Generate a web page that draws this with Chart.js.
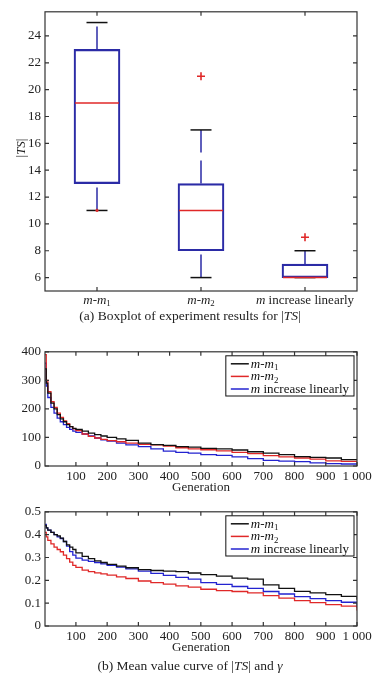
<!DOCTYPE html>
<html><head><meta charset="utf-8">
<script src="https://cdn.jsdelivr.net/npm/chart.js@4"></script>
<style>
html,body{margin:0;padding:0;background:#fff;}
#wrap{position:relative;width:380px;height:679px;overflow:hidden;font-family:'Liberation Serif',serif;color:#222;background:#fff;}
.cv{position:absolute;left:0;width:380px;}
.cap{position:absolute;left:0;width:380px;text-align:center;font-size:13.5px;line-height:16px;white-space:nowrap;}
</style></head><body>
<div id="wrap">
<div class="cv" style="top:0;height:312px"><canvas id="c1"></canvas></div>
<div class="cap" style="top:308px">(a) Boxplot of experiment results for |<i>TS</i>|</div>
<div class="cv" style="top:340px;height:155px"><canvas id="c2"></canvas></div>
<div class="cv" style="top:500px;height:155px"><canvas id="c3"></canvas></div>
<div class="cap" style="top:658px">(b) Mean value curve of |<i>TS</i>| and <i>γ</i></div>
</div>
<script>
// ---------- data ----------
const categories = ['m-m₁', 'm-m₂', 'm increase linearly'];
const boxQ1 = [13, 8, 6];
const boxQ3 = [23, 13, 7];
const boxMedian = [19, 11, 6];
const whiskerMin = [11, 6, 6];
const whiskerMax = [25, 17, 8];
const outlierCat = [0, 1, 2];
const outlierVal = [11, 21, 9];
const yTicks1 = [6, 8, 10, 12, 14, 16, 18, 20, 22, 24];

const seriesLabels = ['m-m₁', 'm-m₂', 'm increase linearly'];
const generations = [1,5,10,20,30,40,50,60,70,80,90,100,120,140,160,180,200,230,260,300,340,380,420,460,500,550,600,650,700,750,800,850,900,950,1000];
const tsM1 = [340,290,255,220,200,180,165,155,145,138,132,128,122,115,110,105,100,95,90,80,75,72,68,66,62,60,56,50,45,40,33,30,28,22,20];
const tsM2 = [390,300,260,225,205,185,170,158,148,138,130,124,112,104,98,93,89,85,80,76,74,70,64,60,57,53,48,43,36,32,28,24,18,16,15];
const tsLin = [360,280,240,205,185,168,155,145,135,128,122,118,112,105,98,92,87,80,74,68,60,52,48,45,40,37,32,26,20,17,15,11,8,7,6];
const gM1 = [.44,.43,.42,.41,.40,.395,.385,.37,.355,.345,.335,.32,.305,.295,.285,.278,.27,.262,.255,.247,.243,.24,.238,.232,.225,.218,.21,.205,.18,.165,.152,.145,.137,.13,.115];
const gM2 = [.41,.39,.375,.36,.345,.335,.325,.31,.295,.28,.265,.257,.245,.238,.233,.228,.223,.215,.208,.197,.19,.183,.176,.17,.161,.155,.151,.145,.133,.122,.111,.102,.094,.087,.068];
const gLin = [.445,.43,.42,.41,.40,.39,.383,.37,.35,.326,.31,.297,.288,.283,.278,.272,.266,.258,.25,.24,.23,.222,.213,.205,.19,.182,.173,.165,.151,.14,.129,.12,.111,.104,.08];
const xTicks = [100,200,300,400,500,600,700,800,900,1000];
const yTicks2 = [0,100,200,300,400];
const yTicks3 = [0,0.1,0.2,0.3,0.4,0.5];

// ---------- helpers ----------
const FONT = '"Liberation Serif", "Times New Roman", serif';
const INK = '#222';
const BLUE = '#2b2ba6', RED = '#e02828', BLACK = '#111';
const subMap = {'₁':'1','₂':'2'};
function richParts(str, italic){
  const parts=[];
  for(const ch of str){
    let c=ch, sub=false, style='normal';
    if(subMap[ch]){sub=true;c=subMap[ch];}
    else if(italic.includes(ch)) style='italic';
    const last=parts[parts.length-1];
    if(last && last.style===style && last.sub===sub) last.t+=c; else parts.push({t:c,style,sub});
  }
  return parts;
}
function fontOf(p,size){return `${p.style} ${p.sub?size*0.68:size}px ${FONT}`;}
function measureRich(ctx,str,italic,size){
  let w=0; richParts(str,italic).forEach(p=>{ctx.font=fontOf(p,size);w+=ctx.measureText(p.t).width;}); return w;
}
function drawRich(ctx,str,italic,x,y,size,align){
  const parts=richParts(str,italic);
  let w=0; parts.forEach(p=>{ctx.font=fontOf(p,size);p.w=ctx.measureText(p.t).width;w+=p.w;});
  let cx = align==='center'? x-w/2 : (align==='right'? x-w : x);
  ctx.textAlign='left'; ctx.textBaseline='alphabetic';
  parts.forEach(p=>{ctx.font=fontOf(p,size);ctx.fillText(p.t,cx,y+(p.sub?size*0.18:0));cx+=p.w;});
}

const framePlugin = {id:'frame', afterDatasetsDraw(chart){
  const {ctx, chartArea:a} = chart; const xs=chart.scales.x, ys=chart.scales.y;
  ctx.save(); ctx.strokeStyle='#333'; ctx.lineWidth=1.2;
  ctx.strokeRect(a.left,a.top,a.right-a.left,a.bottom-a.top);
  const L=4; ctx.beginPath();
  xs.ticks.forEach((t,i)=>{const px=xs.getPixelForTick(i); ctx.moveTo(px,a.bottom);ctx.lineTo(px,a.bottom-L);ctx.moveTo(px,a.top);ctx.lineTo(px,a.top+L);});
  ys.ticks.forEach((t,i)=>{const py=ys.getPixelForTick(i); ctx.moveTo(a.left,py);ctx.lineTo(a.left+L,py);ctx.moveTo(a.right,py);ctx.lineTo(a.right-L,py);});
  ctx.stroke(); ctx.restore();
}};

const boxPlugin = {id:'boxparts', beforeDatasetsDraw(chart){
  const {ctx}=chart; const xs=chart.scales.x, ys=chart.scales.y;
  ctx.save();
  categories.forEach((c,i)=>{
    const cx=xs.getPixelForValue(i);
    ctx.strokeStyle=BLUE; ctx.lineWidth=1.5; ctx.setLineDash([23,8]);
    ctx.beginPath(); ctx.moveTo(cx,ys.getPixelForValue(whiskerMin[i])); ctx.lineTo(cx,ys.getPixelForValue(boxQ1[i])); ctx.stroke();
    ctx.beginPath(); ctx.moveTo(cx,ys.getPixelForValue(boxQ3[i])); ctx.lineTo(cx,ys.getPixelForValue(whiskerMax[i])); ctx.stroke();
    ctx.setLineDash([]);
    ctx.strokeStyle=BLACK; ctx.lineWidth=1.5;
    [whiskerMin[i],whiskerMax[i]].forEach(v=>{const py=ys.getPixelForValue(v);ctx.beginPath();ctx.moveTo(cx-10.5,py);ctx.lineTo(cx+10.5,py);ctx.stroke();});
  });
  ctx.restore();
}, afterDatasetsDraw(chart){
  const {ctx}=chart; const xs=chart.scales.x, ys=chart.scales.y;
  ctx.save(); ctx.strokeStyle=RED; ctx.lineWidth=1.5;
  categories.forEach((c,i)=>{const cx=xs.getPixelForValue(i), py=ys.getPixelForValue(boxMedian[i]);
    ctx.beginPath();ctx.moveTo(cx-22,py);ctx.lineTo(cx+22,py);ctx.stroke();});
  // category labels & y title
  ctx.fillStyle=INK;
  categories.forEach((c,i)=>drawRich(ctx,c,'m',xs.getPixelForValue(i),304,13,'center'));
  ctx.translate(25,148); ctx.rotate(-Math.PI/2);
  drawRich(ctx,'|TS|','TS',0,0,13,'center');
  ctx.restore();
}};

const legendPlugin = {id:'rlegend', afterDraw(chart){
  const {ctx, chartArea:a}=chart; const ds=chart.data.datasets; const size=13;
  ctx.save();
  const maxW=Math.max(...ds.map(d=>measureRich(ctx,d.label,'m',size)));
  const lineLen=18, rowH=12.6;
  const w=6+lineLen+2+maxW+4, h=8+rowH*(ds.length-1)+7;
  const right=a.right-3, left=right-w, top=a.top+4;
  ctx.fillStyle='#fff'; ctx.fillRect(left,top,w,h);
  ctx.strokeStyle='#111'; ctx.lineWidth=1; ctx.strokeRect(left,top,w,h);
  ds.forEach((d,i)=>{const cy=top+8+i*rowH;
    ctx.strokeStyle=d.borderColor; ctx.lineWidth=1.5; ctx.beginPath(); ctx.moveTo(left+5,cy); ctx.lineTo(left+5+lineLen,cy); ctx.stroke();
    ctx.fillStyle='#111'; drawRich(ctx,d.label,'m',left+6+lineLen+1,cy+4,size,'left');});
  ctx.restore();
}};

Chart.defaults.font.family = FONT;
Chart.defaults.color = INK;
Chart.defaults.animation = false;

// ---------- chart 1: boxplot ----------
new Chart(document.getElementById('c1'), {
  type:'bar',
  data:{labels:categories, datasets:[
    {type:'bar', data:boxQ1.map((v,i)=>[v,boxQ3[i]]), backgroundColor:'rgba(0,0,0,0)', borderColor:BLUE, borderWidth:1.5, borderSkipped:false, barThickness:46, order:2},
    {type:'scatter', data:outlierCat.map((c,i)=>({x:categories[c], y:outlierVal[i]})), pointStyle:'cross', pointRadius:[1.6,4,4], borderColor:RED, backgroundColor:RED, pointBorderWidth:1.6, order:1}
  ]},
  options:{responsive:true, maintainAspectRatio:false,
    layout:{padding:{top:5,right:23,left:0,bottom:0}},
    plugins:{legend:{display:false}, tooltip:{enabled:false}},
    scales:{
      x:{type:'category', offset:true, grid:{display:false}, border:{display:false}, ticks:{display:false}, afterFit:s=>{s.height=21;}},
      y:{min:5, max:25.8, grid:{display:false, drawTicks:false}, border:{display:false},
        afterBuildTicks:s=>{s.ticks=yTicks1.map(v=>({value:v}));},
        ticks:{padding:4, font:{size:13}, color:INK}, afterFit:s=>{s.width=45;}}
    }},
  plugins:[boxPlugin, framePlugin]
});

// ---------- line charts ----------
function lineChart(id, series, yMin, yMax, yTicks, padTop){
  return new Chart(document.getElementById(id), {
    type:'line',
    data:{datasets:series.map(s=>({label:s.label, data:generations.map((g,i)=>({x:g,y:s.values[i]})), borderColor:s.color, borderWidth:1.3, pointRadius:0, stepped:true, fill:false}))},
    options:{responsive:true, maintainAspectRatio:false,
      layout:{padding:{top:padTop,right:23,left:0,bottom:0}},
      plugins:{legend:{display:false}, tooltip:{enabled:false}},
      scales:{
        x:{type:'linear', min:1, max:1000, grid:{display:false, drawTicks:false}, border:{display:false},
          afterBuildTicks:s=>{s.ticks=xTicks.map(v=>({value:v}));},
          ticks:{padding:3, font:{size:13}, color:INK, maxRotation:0, autoSkip:false, callback:v=>v===1000?'1 000':String(v)},
          title:{display:true, text:'Generation', font:{size:13}, color:INK, padding:{top:0,bottom:0}},
          afterFit:s=>{s.height=29;}},
        y:{min:yMin, max:yMax, grid:{display:false, drawTicks:false}, border:{display:false},
          afterBuildTicks:s=>{s.ticks=yTicks.map(v=>({value:v}));},
          ticks:{padding:4, font:{size:13}, color:INK, callback:v=>String(v)}, afterFit:s=>{s.width=45;}}
      }},
    plugins:[framePlugin, legendPlugin]
  });
}
lineChart('c2', [
  {label:seriesLabels[0], values:tsM1, color:BLACK},
  {label:seriesLabels[1], values:tsM2, color:RED},
  {label:seriesLabels[2], values:tsLin, color:'#2323d0'}
], 0, 400, yTicks2, 9);
lineChart('c3', [
  {label:seriesLabels[0], values:gM1, color:BLACK},
  {label:seriesLabels[1], values:gM2, color:RED},
  {label:seriesLabels[2], values:gLin, color:'#2323d0'}
], 0, 0.5, yTicks3, 9.4);
</script>
</body></html>
